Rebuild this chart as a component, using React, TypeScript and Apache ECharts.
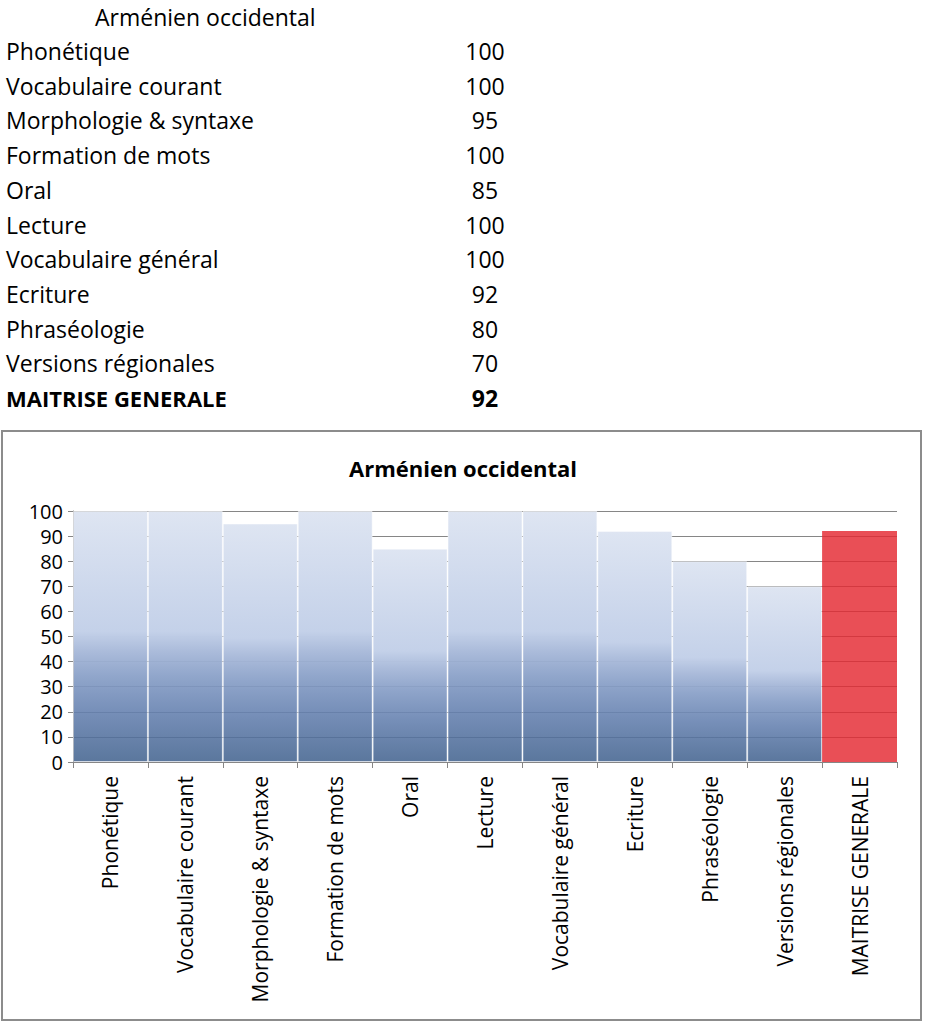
import React, { useEffect, useRef } from "react";
import * as echarts from "echarts";

const chartTitle = "Arménien occidental";
const categories = [
  "Phonétique",
  "Vocabulaire courant",
  "Morphologie & syntaxe",
  "Formation de mots",
  "Oral",
  "Lecture",
  "Vocabulaire général",
  "Ecriture",
  "Phraséologie",
  "Versions régionales",
  "MAITRISE GENERALE",
];
const values = [100, 100, 95, 100, 85, 100, 100, 92, 80, 70, 92];
const yTicks = [0, 10, 20, 30, 40, 50, 60, 70, 80, 90, 100];

const FONT = "'Open Sans', sans-serif";

const blueGradient = () =>
  new echarts.graphic.LinearGradient(0, 0, 0, 1, [
    { offset: 0, color: "rgba(222,229,242,1)" },
    { offset: 0.48, color: "rgba(196,209,233,1)" },
    { offset: 0.56, color: "rgba(168,185,217,0.97)" },
    { offset: 0.66, color: "rgba(136,159,199,0.93)" },
    { offset: 0.8, color: "rgba(100,128,175,0.88)" },
    { offset: 1, color: "rgba(62,95,140,0.85)" },
  ]);

export default function App() {
  const ref = useRef<HTMLDivElement>(null);
  useEffect(() => {
    if (!ref.current) return;
    const chart = echarts.init(ref.current, null, { renderer: "svg" });
    const last = categories.length - 1;
    const rowY0 = 51;
    const rowStep = 34.7;
    const tableTexts: any[] = [
      {
        type: "text",
        x: 95,
        y: 17,
        style: {
          text: chartTitle,
          font: `23px ${FONT}`,
          fill: "#000",
          textVerticalAlign: "middle",
          textAlign: "left",
        },
      },
    ];
    categories.forEach((c, i) => {
      const bold = i === last;
      const y = rowY0 + i * rowStep;
      tableTexts.push({
        type: "text",
        x: 6,
        y,
        style: {
          text: c,
          font: bold ? `bold 22px ${FONT}` : `23px ${FONT}`,
          fill: "#000",
          textVerticalAlign: "middle",
          textAlign: "left",
        },
      });
      tableTexts.push({
        type: "text",
        x: 485,
        y,
        style: {
          text: String(values[i]),
          font: bold ? `bold 23px ${FONT}` : `23px ${FONT}`,
          fill: "#000",
          textVerticalAlign: "middle",
          textAlign: "center",
        },
      });
    });

    chart.setOption({
      animation: false,
      backgroundColor: "#fff",
      title: {
        text: chartTitle,
        left: "center",
        top: 452,
        textStyle: { fontFamily: FONT, fontWeight: "bold", fontSize: 22, color: "#000" },
      },
      graphic: [
        {
          type: "rect",
          shape: { x: 2, y: 431, width: 919, height: 589 },
          style: { fill: "none", stroke: "#8c8c8c", lineWidth: 2 },
          z: 0,
        },
        ...tableTexts,
      ],
      grid: { left: 73, right: 29, top: 511, bottom: 262, containLabel: false },
      xAxis: {
        type: "category",
        data: categories,
        boundaryGap: true,
        axisLine: { show: true, lineStyle: { color: "#868686", width: 1 } },
        axisTick: { show: true, length: 6, lineStyle: { color: "#868686" } },
        axisLabel: {
          rotate: 90,
          interval: 0,
          margin: 14,
          fontFamily: FONT,
          fontSize: 21,
          color: "#000",
        },
      },
      yAxis: {
        type: "value",
        min: 0,
        max: 100,
        interval: 10,
        axisLine: { show: true, lineStyle: { color: "#868686", width: 1 } },
        axisTick: { show: true, length: 5, lineStyle: { color: "#868686" } },
        axisLabel: {
          fontFamily: FONT,
          fontSize: 20,
          color: "#000",
          margin: 10,
          formatter: (v: number) => (yTicks.includes(v) ? String(v) : ""),
        },
        splitLine: { show: true, lineStyle: { color: "#868686", width: 1 } },
      },
      series: [
        {
          type: "bar",
          barCategoryGap: "0%",
          barGap: "0%",
          data: values.map((v, i) =>
            i === last
              ? {
                  value: v,
                  itemStyle: {
                    color: "rgba(228,40,49,0.82)",
                    borderColor: "rgba(255,255,255,0)",
                    borderWidth: 0,
                  },
                }
              : v
          ),
          itemStyle: {
            color: blueGradient(),
            borderColor: "rgba(255,255,255,0.45)",
            borderWidth: 1,
          },
        },
      ],
    });
    return () => chart.dispose();
  }, []);
  return (
    <div
      ref={ref}
      style={{ position: "absolute", left: 0, top: 0, width: 926, height: 1024 }}
    />
  );
}
